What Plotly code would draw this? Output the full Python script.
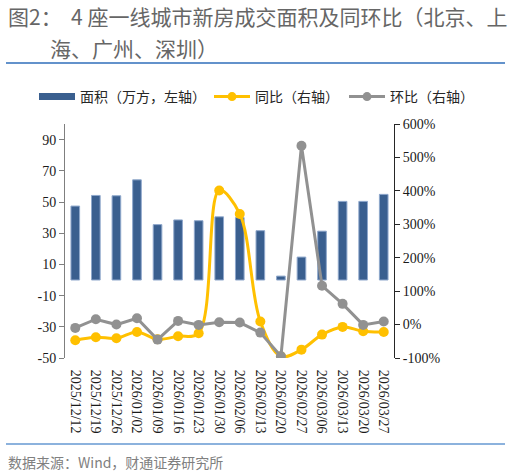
import plotly.graph_objects as go

dates = ["2025/12/12", "2025/12/19", "2025/12/26", "2026/01/02", "2026/01/09", "2026/01/16",
         "2026/01/23", "2026/01/30", "2026/02/06", "2026/02/13", "2026/02/20", "2026/02/27",
         "2026/03/06", "2026/03/13", "2026/03/20", "2026/03/27"]
area = [47.4, 54.2, 54.0, 64.2, 35.5, 38.5, 38.0, 40.5, 40.0, 31.6, 2.5, 14.7, 31.3, 50.4, 50.4, 54.9]
yoy = [-47, -38, -41, -22, -44, -35, -26, 401, 331, 9, -95, -75, -30, -7, -20, -22]
mom = [-10, 16, 0, 19, -45, 11, -1, 7, 6, -24, -95, 535, 116, 62, -1, 9]

left_ticks = [-50, -30, -10, 10, 30, 50, 70, 90]
left_labels = [str(v) for v in left_ticks]
right_ticks = [-100, 0, 100, 200, 300, 400, 500, 600]
right_labels = [f"{v}%" for v in right_ticks]

BAR = "#3A5F8F"
ORANGE = "#FFC000"
GRAY = "#919191"
TICKFONT = dict(family="Liberation Serif", size=14, color="#1a1a1a")
CJK = "Noto Sans CJK SC"

W, H = 510, 474
L, R, T, B = 65, 116, 124, 116
PW, PH = W - L - R, H - T - B


def px(xp):
    return (xp - L) / PW


def py(yp):
    return (H - B - yp) / PH


x = list(range(len(dates)))

fig = go.Figure()
fig.add_trace(go.Bar(x=x, y=area, width=0.42, marker=dict(color=BAR, line=dict(color="#8FA8CC", width=1)),
                     showlegend=False, name="面积（万方，左轴）"))
fig.add_trace(go.Scatter(x=x, y=yoy, yaxis="y2", mode="lines+markers", line=dict(color=ORANGE, width=3, shape="spline", smoothing=1.0),
                         marker=dict(size=10, color=ORANGE), showlegend=False, name="同比（右轴）"))
fig.add_trace(go.Scatter(x=x, y=mom, yaxis="y2", mode="lines+markers", line=dict(color=GRAY, width=3),
                         marker=dict(size=10, color=GRAY), showlegend=False, name="环比（右轴）"))

# legend entries
fig.add_trace(go.Scatter(x=[None], y=[None], mode="lines", line=dict(color=BAR, width=7),
                         name="面积（万方，左轴）", legend="legend"))
fig.add_trace(go.Scatter(x=[None], y=[None], mode="lines+markers", line=dict(color=ORANGE, width=3),
                         marker=dict(size=9, color=ORANGE), name="同比（右轴）", legend="legend2"))
fig.add_trace(go.Scatter(x=[None], y=[None], mode="lines+markers", line=dict(color=GRAY, width=3),
                         marker=dict(size=9, color=GRAY), name="环比（右轴）", legend="legend3"))

LEGFONT = dict(family=CJK, size=14, color="#262626")


def leg(xc):
    return dict(orientation="h", xref="container", yref="container", x=xc / W, y=1 - 97 / H,
                xanchor="left", yanchor="middle", font=LEGFONT, itemwidth=36, bgcolor="rgba(0,0,0,0)",
                borderwidth=0)


fig.update_layout(
    width=W, height=H,
    margin=dict(l=L, r=R, t=T, b=B, autoexpand=False),
    paper_bgcolor="white", plot_bgcolor="white",
    xaxis=dict(range=[-0.5, len(dates) - 0.5], tickvals=x, ticktext=dates, tickangle=90,
               tickfont=TICKFONT, showline=False, ticks="outside", ticklen=8, tickcolor="rgba(0,0,0,0)",
               showgrid=False, zeroline=False, automargin=False),
    xaxis2=dict(range=[-0.5, len(dates) - 0.5], overlaying="x", anchor="free", position=1/3, side="bottom",
                tickvals=[i + 0.5 for i in range(len(dates) - 1)], showticklabels=False, ticks="inside",
                ticklen=4, tickcolor="#8c8c8c", tickwidth=1, showline=True, linecolor="#A6A6A6", linewidth=2,
                showgrid=False, zeroline=False, automargin=False),
    yaxis=dict(range=[-50, 100], tickvals=left_ticks, ticktext=left_labels, tickfont=TICKFONT, showline=True,
               linecolor="#7f7f7f", linewidth=1, ticks="outside", ticklen=5, tickcolor="#7f7f7f",
               showgrid=False, zeroline=False, automargin=False),
    yaxis2=dict(range=[-100, 600], tickvals=right_ticks, ticktext=right_labels, overlaying="y", side="right",
                tickfont=TICKFONT, showline=True, linecolor="#262626", linewidth=1, ticks="outside", ticklen=5,
                tickcolor="#262626", showgrid=False, zeroline=False, automargin=False),
    legend=leg(34),
    legend2=leg(209),
    legend3=leg(344),
    font=dict(family=CJK),
)

fig.add_annotation(text="图2：  4 座一线城市新房成交面积及同环比（北京、上", xref="paper", yref="paper",
                   x=px(6), y=py(16), xanchor="left", yanchor="middle", showarrow=False,
                   font=dict(family=CJK, size=21, color="#666666"))
fig.add_annotation(text="海、广州、深圳）", xref="paper", yref="paper",
                   x=px(48), y=py(48), xanchor="left", yanchor="middle", showarrow=False,
                   font=dict(family=CJK, size=21, color="#666666"))
fig.add_annotation(text="数据来源：Wind，财通证券研究所", xref="paper", yref="paper",
                   x=px(6), y=py(462), xanchor="left", yanchor="middle", showarrow=False,
                   font=dict(family=CJK, size=14, color="#808080"))

fig.add_shape(type="line", xref="paper", yref="paper", x0=px(6), x1=px(505),
              y0=py(63), y1=py(63), line=dict(color="#2F6EBA", width=1.5))
fig.add_shape(type="line", xref="paper", yref="paper", x0=px(6), x1=px(505),
              y0=py(444), y1=py(444), line=dict(color="#6699D2", width=1.5))

fig.write_html("out.html")
